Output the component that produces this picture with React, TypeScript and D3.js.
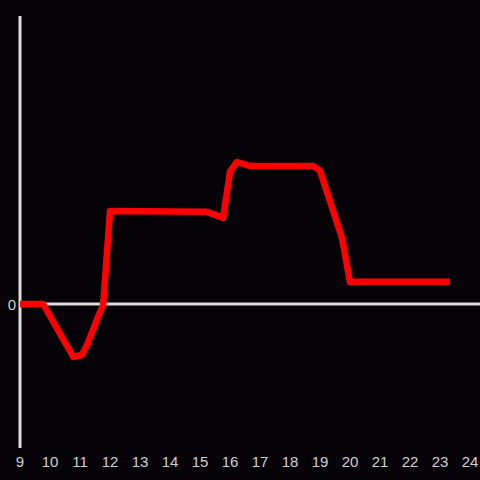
import React from "react";
import * as d3 from "d3";

const xTicks = [9, 10, 11, 12, 13, 14, 15, 16, 17, 18, 19, 20, 21, 22, 23, 24];
const yTicks = [0];
const times = [9.0, 9.77, 10.77, 11.06, 11.23, 11.67, 11.77, 12.0, 15.23, 15.77, 16.0, 16.23, 16.67, 18.77, 19.0, 19.73, 20.0, 23.33];
const values = [0.0, 0.0, -1.83, -1.77, -1.43, -0.27, -0.05, 3.23, 3.2, 2.99, 4.6, 4.93, 4.79, 4.79, 4.63, 2.3, 0.77, 0.77];

const W = 480;
const H = 480;

export default function App() {
  const x = d3.scaleLinear().domain([9, 24]).range([20, 470]);
  const y = d3.scaleLinear().domain([-5, 10]).range([448, 16]);
  const pts: [number, number][] = times.map((t, i) => [t, values[i]]);
  const line = d3
    .line<[number, number]>()
    .x((d) => x(d[0]))
    .y((d) => y(d[1]));
  const axisColor = "#dcdcdc";
  const font = "'Liberation Sans', Arial, sans-serif";
  return (
    <svg
      width={W}
      height={H}
      style={{ position: "absolute", left: 0, top: 0, display: "block", background: "#050308" }}
    >
      <rect x={0} y={0} width={W} height={H} fill="#050308" />
      <line x1={x(9)} x2={x(9)} y1={y(10)} y2={y(-5)} stroke={axisColor} strokeWidth={3} />
      <line x1={x(9)} x2={W} y1={y(0)} y2={y(0)} stroke={axisColor} strokeWidth={3} />
      <path d={line(pts) || ""} fill="none" stroke="#ff0000" strokeWidth={6.5} strokeLinejoin="round" />
      {xTicks.map((t) => (
        <text
          key={t}
          x={x(t)}
          y={466.5}
          textAnchor="middle"
          fill="#cfcfcf"
          fontSize={15}
          fontFamily={font}
        >
          {t}
        </text>
      ))}
      {yTicks.map((t) => (
        <text
          key={t}
          x={16}
          y={y(t) + 6}
          textAnchor="end"
          fill="#cfcfcf"
          fontSize={15}
          fontFamily={font}
        >
          {t}
        </text>
      ))}
    </svg>
  );
}
